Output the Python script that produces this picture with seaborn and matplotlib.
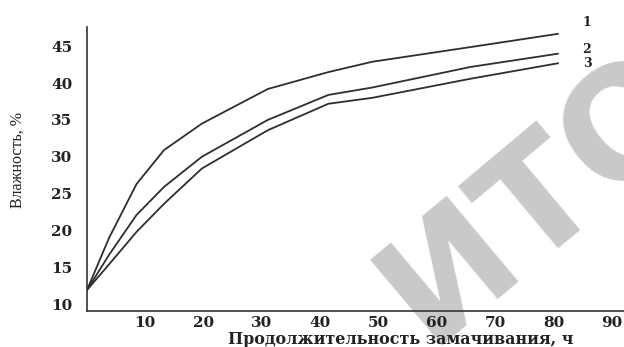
import matplotlib
matplotlib.use("Agg")
import matplotlib.pyplot as plt
import seaborn as sns
import pandas as pd

# soaking time, h
hours = [0, 3.8, 8.5, 13.2, 19.7, 31.0, 41.4, 48.9, 65.8, 80.8]
# moisture, % for the three curves
curve_1 = [11.9, 19.0, 26.3, 30.9, 34.5, 39.2, 41.5, 42.9, 44.9, 46.7]
curve_2 = [11.9, 16.7, 22.1, 25.9, 30.0, 35.0, 38.4, 39.4, 42.2, 44.0]
curve_3 = [11.9, 15.4, 19.8, 23.6, 28.4, 33.6, 37.2, 38.0, 40.6, 42.7]
curve_names = ["1", "2", "3"]
label_pos = [(85.8, 48.3), (85.6, 44.6), (85.8, 42.7)]

x_ticks = [10, 20, 30, 40, 50, 60, 70, 80, 90]
y_ticks = [10, 15, 20, 25, 30, 35, 40, 45]

sns.set_theme(style="white")
plt.rcParams["font.family"] = ["DejaVu Serif", "Liberation Serif"]

df = pd.concat([
    pd.DataFrame({"t": hours, "w": vals, "curve": name})
    for name, vals in zip(curve_names, [curve_1, curve_2, curve_3])
])

fig = plt.figure(figsize=(6.24, 3.47), dpi=100)
ax = fig.add_axes([0.1394, 0.1037, 0.8606, 0.818])
ax.set_facecolor("none")

# faint scan watermark, behind everything
fig.text(0.865, 0.434, "ИТО", color="#c9c9c9", fontsize=110, fontweight="bold",
         family="DejaVu Sans", rotation=40, ha="center", va="center", zorder=-1)

sns.lineplot(data=df, x="t", y="w", units="curve", estimator=None,
             color="#2e2e2e", linewidth=1.3, ax=ax, legend=False)

ax.set_xlim(0, 92.1)
ax.set_ylim(9.05, 47.6)
ax.set_xticks(x_ticks)
ax.set_yticks(y_ticks)
ax.tick_params(direction="in", length=4, width=1, color="#333333", labelsize=11)
ax.tick_params(axis="y", pad=10.5)
ax.tick_params(axis="x", pad=3.5)
for lab in ax.get_xticklabels() + ax.get_yticklabels():
    lab.set_fontweight("bold")
    lab.set_color("#222222")

for side in ["top", "right"]:
    ax.spines[side].set_visible(False)
for side in ["left", "bottom"]:
    ax.spines[side].set_color("#333333")
    ax.spines[side].set_linewidth(1.2)

ax.set_xlabel("Продолжительность замачивания, ч", fontsize=11.5,
              fontweight="bold", color="#222222")
ax.xaxis.set_label_coords(0.585, -0.072)
ax.set_ylabel("Влажность, %", fontsize=11.5, color="#222222",
              family="Liberation Serif")
ax.yaxis.set_label_coords(-0.115, 0.532)

# curve numbers at the right ends
for name, (lx, ly) in zip(curve_names, label_pos):
    ax.text(lx, ly, name, fontsize=9, fontweight="bold", ha="center",
            va="center", color="#222222", clip_on=False)

fig.savefig("out.png", dpi=100)
